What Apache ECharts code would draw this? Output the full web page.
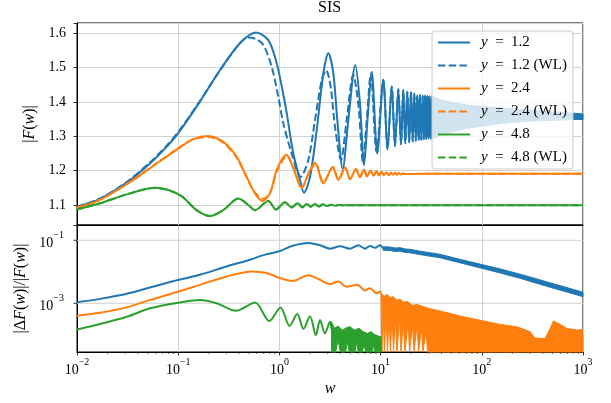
<!DOCTYPE html>
<html><head><meta charset="utf-8">
<script src="https://cdn.jsdelivr.net/npm/echarts@6/dist/echarts.min.js"></script>
<style>html,body{margin:0;padding:0;background:#fff}#c{width:611px;height:403px}</style>
</head><body><div id="c"></div>
<script>
// ---------- data: [w, value] ----------
// top panel |F(w)|
const blue12 = [[0.01,1.095],[0.0169,1.118],[0.031,1.165],[0.0526,1.221],[0.077,1.270],[0.101,1.311],[0.164,1.401],[0.259,1.493],[0.408,1.571],[0.587,1.602],[0.777,1.580],[0.94,1.513],[1.054,1.446],[1.175,1.372],[1.372,1.250],[1.599,1.173],[1.75,1.136],[2.007,1.182],[2.337,1.318],[2.716,1.483],[3.042,1.542],[3.411,1.483],[3.735,1.347],[4.22,1.205],[4.796,1.347],[5.623,1.508],[6.252,1.396],[6.86,1.216],[7.43,1.35],[8.17,1.488],[9.27,1.250],[10.63,1.465],[11.70,1.262],[12.88,1.445],[13.88,1.272],[14.96,1.437],[15.91,1.277],[16.76,1.435],[17.54,1.280],[18.36,1.430],[19.17,1.283],[19.97,1.430],[20.76,1.285],[21.53,1.425],[22.28,1.287],[23.05,1.420],[23.80,1.289],[24.51,1.420],[25.25,1.290],[26.06,1.418],[26.73,1.291],[27.46,1.418],[28.22,1.292],[28.94,1.418],[29.60,1.293],[30.28,1.417],[31.12,1.294],[31.98,1.416]];
const blue12WL = [[0.01,1.095],[0.0169,1.119],[0.031,1.167],[0.0526,1.224],[0.077,1.273],[0.101,1.314],[0.164,1.403],[0.259,1.492],[0.408,1.572],[0.49,1.588],[0.58,1.584],[0.694,1.566],[0.839,1.503],[0.975,1.415],[1.093,1.338],[1.323,1.250],[1.622,1.182],[1.93,1.231],[2.249,1.347],[2.62,1.464],[2.89,1.493],[3.21,1.444],[3.54,1.328],[4.06,1.231],[4.63,1.35],[5.37,1.479],[6.04,1.39],[6.70,1.225],[7.30,1.35],[8.00,1.482],[9.10,1.255],[10.63,1.465],[11.70,1.262],[12.88,1.445],[13.88,1.272],[14.96,1.437],[15.91,1.277],[16.76,1.435],[17.54,1.280],[18.36,1.430],[19.17,1.283],[19.97,1.430],[20.76,1.285],[21.53,1.425],[22.28,1.287],[23.05,1.420],[23.80,1.289],[24.51,1.420],[25.25,1.290],[26.06,1.418],[26.73,1.291],[27.46,1.418],[28.22,1.292],[28.94,1.418],[29.60,1.293],[30.28,1.417],[31.12,1.294],[31.98,1.416]];
// dense oscillation of y=1.2 beyond w~32: upper / lower envelope
const blue12Upper = [[31.98,1.418],[40,1.405],[71,1.391],[151,1.383],[290,1.376],[834,1.367],[1000,1.365]];
const blue12Lower = [[31.98,1.292],[40,1.305],[71,1.323],[151,1.337],[290,1.344],[834,1.349],[1000,1.349]];
const orange24 = [[0.01,1.092],[0.0169,1.115],[0.036,1.173],[0.0613,1.221],[0.101,1.265],[0.141,1.292],[0.198,1.301],[0.279,1.284],[0.378,1.241],[0.475,1.182],[0.574,1.134],[0.684,1.112],[0.807,1.134],[0.94,1.202],[1.175,1.246],[1.362,1.21],[1.66,1.149],[1.92,1.19],[2.25,1.223],[2.71,1.163],[3.36,1.211],[3.82,1.173],[4.45,1.210],[4.99,1.175],[5.71,1.205],[6.25,1.181],[6.86,1.203],[7.34,1.183],[7.95,1.200],[8.51,1.185],[9.10,1.198],[9.64,1.186],[10.2,1.196],[10.8,1.187],[11.4,1.195],[12.1,1.187],[12.7,1.194],[13.3,1.188],[13.9,1.193],[14.5,1.189],[15.2,1.193],[15.9,1.189],[16.6,1.192],[17.4,1.190],[30,1.191],[1000,1.191]];
const orange24WL = [[0.01,1.092],[0.0169,1.115],[0.036,1.174],[0.0613,1.222],[0.101,1.266],[0.141,1.292],[0.2,1.298],[0.279,1.281],[0.378,1.238],[0.475,1.18],[0.574,1.136],[0.70,1.118],[0.82,1.14],[0.95,1.2],[1.19,1.243],[1.38,1.208],[1.68,1.152],[1.94,1.19],[2.27,1.221],[2.73,1.165],[3.38,1.21],[3.84,1.174],[4.47,1.209],[5.0,1.176],[5.71,1.205],[6.25,1.181],[6.86,1.203],[7.34,1.183],[7.95,1.200],[8.51,1.185],[9.10,1.198],[9.64,1.186],[10.2,1.196],[10.8,1.187],[11.4,1.195],[12.1,1.187],[12.7,1.194],[13.3,1.188],[13.9,1.193],[14.5,1.189],[15.2,1.193],[15.9,1.189],[16.6,1.192],[17.4,1.190],[30,1.191],[1000,1.191]];
const green48 = [[0.01,1.087],[0.0169,1.105],[0.031,1.131],[0.059,1.150],[0.104,1.129],[0.152,1.085],[0.206,1.068],[0.279,1.085],[0.393,1.119],[0.493,1.100],[0.574,1.085],[0.777,1.112],[0.925,1.087],[1.135,1.108],[1.323,1.093],[1.516,1.105],[1.683,1.093],[1.86,1.103],[2.04,1.095],[2.25,1.103],[2.46,1.096],[2.70,1.102],[2.95,1.097],[3.24,1.101],[3.54,1.098],[3.88,1.100],[4.45,1.099],[1000,1.099]];
const green48WL = [[0.01,1.087],[0.0169,1.105],[0.031,1.131],[0.059,1.150],[0.104,1.129],[0.152,1.085],[0.206,1.068],[0.279,1.085],[0.393,1.119],[0.493,1.100],[0.574,1.085],[0.777,1.112],[0.925,1.087],[1.135,1.108],[1.323,1.093],[1.516,1.105],[1.683,1.093],[1.86,1.103],[2.04,1.095],[2.25,1.103],[2.46,1.096],[2.70,1.102],[2.95,1.097],[3.24,1.101],[3.54,1.098],[3.88,1.100],[4.45,1.099],[1000,1.099]];

// bottom panel |dF|/|F|
const dBlue = [[0.01,1.08e-3],[0.0169,1.38e-3],[0.031,2.0e-3],[0.0526,3.16e-3],[0.101,5.57e-3],[0.164,8.04e-3],[0.301,1.48e-2],[0.512,2.42e-2],[0.721,3.50e-2],[1.0,4.47e-2],[1.35,6.7e-2],[1.93,8.26e-2],[2.52,6.92e-2],[3.16,5.43e-2],[3.97,6.46e-2],[4.99,5.43e-2],[6.02,6.92e-2],[7.02,5.43e-2],[7.85,6.61e-2],[8.81,5.75e-2],[9.86,6.92e-2],[10.6,5.5e-2]];
const dBlueUpper = [[10.6,6.24e-2],[12.4,6.10e-2],[13.9,5.69e-2],[15.6,5.82e-2],[17.4,5.31e-2],[19.5,5.19e-2],[24.5,4.52e-2],[38.6,3.59e-2],[60.9,2.48e-2],[100,1.70e-2],[151,1.24e-2],[238,8.41e-3],[335,6.17e-3],[472,4.47e-3],[744,2.95e-3],[1000,2.24e-3]];
const dBlueLower = [[10.6,4.84e-2],[12.4,4.73e-2],[13.9,4.42e-2],[15.6,4.52e-2],[17.4,4.12e-2],[19.5,4.03e-2],[24.5,3.51e-2],[38.6,2.79e-2],[60.9,1.93e-2],[100,1.29e-2],[151,9.23e-3],[238,6.24e-3],[335,4.47e-3],[472,3.24e-3],[744,2.14e-3],[1000,1.62e-3]];
const dOrange = [[0.01,4.04e-4],[0.0169,5.01e-4],[0.031,7.41e-4],[0.0526,1.28e-3],[0.101,2.36e-3],[0.164,3.85e-3],[0.301,7.10e-3],[0.532,1.03e-2],[0.749,9.12e-3],[1.01,6.31e-3],[1.36,5.13e-3],[1.92,7.76e-3],[2.52,5.57e-3],[3.16,4.07e-3],[3.82,4.91e-3],[4.62,3.33e-3],[5.89,3.85e-3],[7.02,2.54e-3],[7.85,3.02e-3],[9.15,2.09e-3],[9.86,2.36e-3],[10.2,2.0e-3]];
const dOrangeUpper = [[10.1,2.0e-3],[10.9,1.7e-3],[11.6,1.9e-3],[12.5,1.5e-3],[13.3,1.65e-3],[14.5,1.25e-3],[15.6,1.35e-3],[17.0,1.08e-3],[18.5,1.15e-3],[20.5,8.6e-4],[22.9,9.1e-4],[30.8,6.76e-4],[41.8,5.37e-4],[66.3,3.72e-4],[100,2.82e-4],[151,2.14e-4],[222,1.80e-4],[300,1.26e-4],[335,7.94e-5],[421,7.59e-5],[466,1.41e-4],[511,2.75e-4],[573,2.29e-4],[696,1.58e-4],[876,1.41e-4],[975,1.48e-4],[1000,1.0e-4]];
const dOrangeLower = [[10.1,1.78e-3],[10.3,1e-5],[10.6,6.3e-4],[10.9,1e-5],[11.3,5.0e-4],[11.7,1e-5],[12.1,4.0e-4],[12.5,1e-5],[13.0,4.0e-4],[13.4,1e-5],[14.0,3.2e-4],[14.5,1e-5],[15.4,3.2e-4],[15.9,1e-5],[16.8,2.5e-4],[17.4,1e-5],[18.7,2.5e-4],[19.3,1e-5],[20.7,2.0e-4],[21.4,1e-5],[22.9,2.0e-4],[23.7,1e-5],[25.4,1.6e-4],[26.2,1e-5],[28.1,1.26e-4],[29.1,1e-5],[1000,1e-5]];
const dGreen = [[0.01,1.48e-4],[0.0169,2.19e-4],[0.031,3.72e-4],[0.0526,6.92e-4],[0.101,1.05e-3],[0.164,1.28e-3],[0.240,1.0e-3],[0.3725,5.83e-4],[0.574,1.05e-3],[0.795,2.74e-4],[1.025,7.41e-4],[1.26,1.91e-4],[1.50,4.57e-4],[1.73,1.55e-4],[2.007,3.89e-4],[2.29,9.77e-5],[2.52,2.95e-4],[2.82,1.11e-4],[3.16,2.60e-4],[3.27,1.5e-4]];
const dGreenUpper = [[3.27,2.6e-4],[3.5,1.6e-4],[3.8,1.9e-4],[4.2,1.4e-4],[4.6,1.7e-4],[5.0,1.8e-4],[5.5,1.4e-4],[6.1,1.6e-4],[6.7,1.26e-4],[7.4,1.1e-4],[8.0,1.26e-4],[8.8,1.0e-4],[9.6,9e-5],[10.1,8.7e-5],[10.2,1e-5]];
const dGreenLower = [[3.27,1e-5],[3.6,1e-5],[3.8,7e-5],[4.0,1e-5],[4.5,1e-5],[4.7,6e-5],[4.9,1e-5],[5.6,1e-5],[5.8,6e-5],[6.0,1e-5],[6.6,1e-5],[6.9,5e-5],[7.1,1e-5],[8.2,1e-5],[8.5,5e-5],[8.7,1e-5],[10.2,1e-5]];

// ticks
const xMinorTicks = [0.02,0.03,0.04,0.05,0.06,0.07,0.08,0.09,0.2,0.3,0.4,0.5,0.6,0.7,0.8,0.9,2,3,4,5,6,7,8,9,20,30,40,50,60,70,80,90,200,300,400,500,600,700,800,900];
const yTicksBottom = [0.1, 0.001];
const legendNames = ['y = 1.2','y = 1.2 (WL)','y = 2.4','y = 2.4 (WL)','y = 4.8','y = 4.8 (WL)'];

// ---------- styling ----------
const C1 = '#1f77b4', C2 = '#ff7f0e', C3 = '#2ca02c';
const FONT = 'Liberation Serif';
const GRID = '#d2d2d2';
const DASH = [7.5, 3.2];
const LW = 2;

const supRich = {
  b: {fontFamily: FONT, fontSize: 14, color: '#000', verticalAlign: 'bottom', lineHeight: 20},
  s: {fontFamily: FONT, fontSize: 10, color: '#000', verticalAlign: 'top', lineHeight: 20}
};
function decadeLabel(v, allowed) {
  const e = Math.log10(v), r = Math.round(e);
  if (Math.abs(e - r) > 1e-6) return '';
  if (allowed && allowed.indexOf(r) < 0) return '';
  return '{b|10}{s|' + (r < 0 ? '\u2212' + (-r) : r) + '}';
}

function lineSeries(name, data, color, dashed, xi, yi) {
  return {
    name: name, type: 'line', data: data, xAxisIndex: xi, yAxisIndex: yi,
    symbol: 'none', showSymbol: false, smooth: 0.3, color: color, clip: true,
    lineStyle: {color: color, width: LW, type: dashed ? DASH : 'solid'},
    emphasis: {disabled: true}, silent: true
  };
}
function bandSeries(upper, lower, color, xi, yi) {
  return {
    type: 'custom', xAxisIndex: xi, yAxisIndex: yi, silent: true,
    data: [upper[0]],
    renderItem: function (params, api) {
      const cs = params.coordSys;
      const cl = y => Math.max(cs.y, Math.min(cs.y + cs.height, y));
      const pts = [];
      upper.forEach(p => { const c = api.coord(p); pts.push([c[0], cl(c[1])]); });
      for (let i = lower.length - 1; i >= 0; i--) { const c = api.coord(lower[i]); pts.push([c[0], cl(c[1])]); }
      return {type: 'polygon', shape: {points: pts}, style: {fill: color, stroke: color, lineWidth: 1}};
    }
  };
}

const chart = echarts.init(document.getElementById('c'), null, {renderer: 'canvas'});
const option = {
  animation: false,
  backgroundColor: '#fff',
  title: {text: 'SIS', left: 318, top: 0, padding: 0,
    textStyle: {fontFamily: FONT, fontSize: 16, fontWeight: 'normal', color: '#000'}},
  legend: {
    data: legendNames, orient: 'vertical', left: 432, top: 31,
    padding: [4, 6, 4, 5], itemGap: 8, itemWidth: 32, itemHeight: 14,
    backgroundColor: 'rgba(255,255,255,0.8)', borderColor: '#cccccc', borderWidth: 1, borderRadius: 3,
    selectedMode: false,
    itemStyle: {color: 'transparent', borderColor: 'transparent', borderWidth: 0, opacity: 0},
    formatter: n => '{i|y}' + n.slice(1).replace(' = ', '\u2002=\u2002'),
    textStyle: {fontFamily: FONT, fontSize: 15, color: '#000', padding: [0, 0, 0, 6], width: 92,
      rich: {i: {fontFamily: FONT, fontSize: 15, fontStyle: 'italic', color: '#000'}}}
  },
  grid: [
    {left: 77, top: 23, width: 506, height: 202, show: true, borderColor: '#000', borderWidth: 1, backgroundColor: 'transparent'},
    {left: 77, top: 225, width: 506, height: 127, show: true, borderColor: '#000', borderWidth: 1, backgroundColor: 'transparent'}
  ],
  xAxis: [
    {gridIndex: 0, type: 'log', logBase: 10, min: 0.01, max: 1000,
      axisLine: {show: true, lineStyle: {color: '#000', width: 1}}, axisTick: {show: false}, axisLabel: {show: false},
      splitLine: {show: true, lineStyle: {color: GRID, width: 1}}},
    {gridIndex: 1, type: 'log', logBase: 10, min: 0.01, max: 1000,
      axisLine: {show: true, lineStyle: {color: '#000', width: 1}},
      axisTick: {show: true, length: 3.5, lineStyle: {color: '#000', width: 0.8}},
      axisLabel: {margin: 5, formatter: v => decadeLabel(v), rich: supRich},
      splitLine: {show: true, lineStyle: {color: GRID, width: 1}},
      name: 'w', nameLocation: 'middle', nameGap: 29,
      nameTextStyle: {fontFamily: FONT, fontSize: 16, fontStyle: 'italic', color: '#000'}}
  ],
  yAxis: [
    {gridIndex: 0, type: 'value', min: 1.0418, max: 1.630, splitNumber: 5,
      axisLine: {show: true, lineStyle: {color: '#000', width: 1}},
      axisTick: {show: true, length: 3.5, lineStyle: {color: '#000', width: 0.8}},
      axisLabel: {margin: 11, fontFamily: FONT, fontSize: 14, color: '#000',
        formatter: v => { const r = Math.round(v * 10) / 10; return Math.abs(v - r) < 1e-6 ? r.toFixed(1) : ''; }},
      splitLine: {show: true, lineStyle: {color: GRID, width: 1}},
      name: '|{i|F}({i|w})|', nameLocation: 'middle', nameGap: 33, nameRotate: 90,
      nameTextStyle: {fontFamily: FONT, fontSize: 16, color: '#000',
        rich: {i: {fontFamily: FONT, fontSize: 16, fontStyle: 'italic', color: '#000'}}}},
    {gridIndex: 1, type: 'log', logBase: 10, min: 2.84e-5, max: 0.306,
      axisLine: {show: true, lineStyle: {color: '#000', width: 1}},
      axisTick: {show: false}, splitLine: {show: false},
      axisLabel: {margin: 13, formatter: v => decadeLabel(v, [-1, -3]), rich: supRich},
      name: '|\u0394{i|F}({i|w})|/|{i|F}({i|w})|', nameLocation: 'middle', nameGap: 46, nameRotate: 90,
      nameTextStyle: {fontFamily: FONT, fontSize: 16, color: '#000',
        rich: {i: {fontFamily: FONT, fontSize: 16, fontStyle: 'italic', color: '#000'}}}}
  ],
  series: [
    // bottom y gridlines + ticks at labelled decades
    {type: 'custom', xAxisIndex: 1, yAxisIndex: 1, silent: true,
      data: yTicksBottom.map(v => [1, v]),
      renderItem: function (params, api) {
        const cs = params.coordSys;
        const y = api.coord([api.value(0), api.value(1)])[1];
        return {type: 'group', children: [
          {type: 'line', shape: {x1: cs.x, y1: y, x2: cs.x + cs.width, y2: y}, style: {stroke: GRID, lineWidth: 1}},
          {type: 'line', shape: {x1: cs.x - 3.5, y1: y, x2: cs.x, y2: y}, style: {stroke: '#000', lineWidth: 0.8}}
        ]};
      }},
    // minor x ticks
    {type: 'custom', xAxisIndex: 1, yAxisIndex: 1, silent: true,
      data: xMinorTicks.map(v => [v, 0.001]),
      renderItem: function (params, api) {
        const cs = params.coordSys;
        const x = api.coord([api.value(0), api.value(1)])[0];
        const yb = cs.y + cs.height;
        return {type: 'line', shape: {x1: x, y1: yb, x2: x, y2: yb + 2}, style: {stroke: '#000', lineWidth: 0.6}};
      }},
    lineSeries('y = 1.2', blue12, C1, false, 0, 0),
    bandSeries(blue12Upper, blue12Lower, C1, 0, 0),
    lineSeries('y = 1.2 (WL)', blue12WL, C1, true, 0, 0),
    lineSeries('y = 2.4', orange24, C2, false, 0, 0),
    lineSeries('y = 2.4 (WL)', orange24WL, C2, true, 0, 0),
    lineSeries('y = 4.8', green48, C3, false, 0, 0),
    lineSeries('y = 4.8 (WL)', green48WL, C3, true, 0, 0),
    lineSeries('d12', dBlue, C1, false, 1, 1),
    bandSeries(dBlueUpper, dBlueLower, C1, 1, 1),
    lineSeries('d24', dOrange, C2, false, 1, 1),
    bandSeries(dOrangeUpper, dOrangeLower, C2, 1, 1),
    lineSeries('d48', dGreen, C3, false, 1, 1),
    bandSeries(dGreenUpper, dGreenLower, C3, 1, 1)
  ]
};
chart.setOption(option);
</script></body></html>
